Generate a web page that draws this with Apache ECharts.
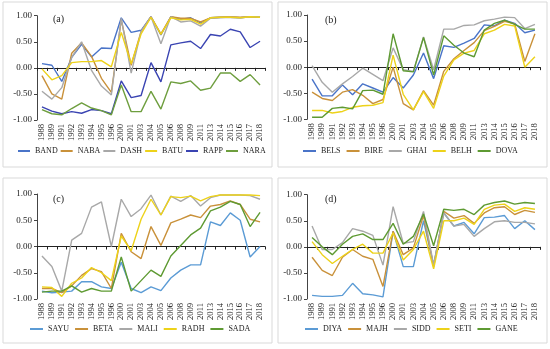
<!DOCTYPE html>
<html><head><meta charset="utf-8">
<script src="https://cdn.jsdelivr.net/npm/echarts@6/dist/echarts.min.js"></script>
<style>html,body{margin:0;padding:0;background:#fff}#c{width:550px;height:349px}</style>
</head><body><div id="c"></div>
<script>
var years = ['1988','1989','1991','1992','1993','1994','1995','1996','2000','2001','2003','2004','2005','2006','2008','2009','2011','2013','2014','2015','2016','2017','2018'];
var yTicks = [-1, -0.5, 0, 0.5, 1];

// Panel (a)
var BAND = [0.08,0.05,-0.26,0.2,0.45,0.21,0.38,0.37,0.96,0.68,0.72,0.98,0.63,0.98,0.93,0.96,0.86,0.96,0.97,0.97,0.96,0.98,0.97];
var NABA = [-0.15,-0.5,-0.6,0.28,0.48,0.22,-0.2,-0.47,0.92,0.05,0.7,0.98,0.65,0.98,0.95,0.95,0.88,0.96,0.97,0.98,0.97,0.98,0.98];
var DASH = [-0.45,-0.6,-0.38,0.2,0.5,-0.05,-0.35,-0.52,0.95,-0.1,0.7,0.98,0.46,0.98,0.88,0.9,0.8,0.95,0.96,0.97,0.96,0.98,0.98];
var BATU = [-0.02,-0.23,-0.15,0.1,0.12,0.12,0.14,0.02,0.68,0.08,0.65,0.97,0.64,0.96,0.92,0.93,0.84,0.96,0.97,0.97,0.96,0.98,0.97];
var RAPP = [-0.75,-0.83,-0.88,-0.84,-0.87,-0.8,-0.82,-0.88,-0.25,-0.57,-0.53,0.1,-0.27,0.44,0.48,0.51,0.37,0.64,0.61,0.74,0.69,0.39,0.51];
var NARA = [-0.8,-0.88,-0.9,-0.78,-0.67,-0.77,-0.82,-0.9,-0.33,-0.84,-0.84,-0.45,-0.79,-0.27,-0.3,-0.25,-0.43,-0.39,-0.1,-0.1,-0.26,-0.13,-0.33];

// Panel (b)
var BELS = [-0.23,-0.55,-0.55,-0.34,-0.53,-0.32,-0.4,-0.48,-0.2,-0.4,-0.15,0.27,-0.22,0.41,0.38,0.46,0.55,0.81,0.79,0.9,0.84,0.66,0.71];
var BIRE = [-0.48,-0.6,-0.64,-0.48,-0.43,-0.54,-0.7,-0.62,0.0,-0.7,-0.82,-0.45,-0.73,-0.08,0.16,0.32,0.47,0.7,0.78,0.88,0.83,0.11,0.64];
var GHAI = [0.03,-0.29,-0.48,-0.32,-0.18,-0.02,-0.14,-0.26,0.37,-0.05,-0.08,0.58,-0.05,0.73,0.73,0.8,0.81,0.89,0.92,0.96,0.95,0.74,0.82];
var BELH = [-0.83,-0.83,-0.88,-0.85,-0.77,-0.74,-0.73,-0.68,0.23,-0.52,-0.82,-0.47,-0.79,-0.17,0.14,0.27,0.32,0.64,0.71,0.82,0.79,0.0,0.2];
var DOVA = [-0.96,-0.96,-0.79,-0.77,-0.8,-0.45,-0.44,-0.52,0.64,-0.07,-0.09,0.57,-0.15,0.6,0.42,0.27,0.2,0.71,0.84,0.9,0.82,0.73,0.73];

// Panel (c)
var SAYU = [-0.85,-0.88,-0.87,-0.85,-0.67,-0.67,-0.77,-0.8,-0.3,-0.8,-0.88,-0.77,-0.84,-0.6,-0.45,-0.35,-0.35,0.47,0.4,0.64,0.5,-0.2,0.0];
var BETA = [-0.8,-0.8,-0.88,-0.75,-0.55,-0.42,-0.48,-0.8,0.25,-0.1,-0.23,0.38,0.02,0.45,0.52,0.6,0.55,0.77,0.8,0.87,0.8,0.52,0.47];
var MALI = [-0.18,-0.38,-0.85,0.12,0.25,0.75,0.85,0.0,0.9,0.57,0.72,0.98,0.6,0.96,0.86,0.97,0.77,0.93,0.98,0.98,0.98,0.97,0.9];
var RADH = [-0.77,-0.78,-0.95,-0.7,-0.6,-0.4,-0.5,-0.65,0.2,-0.08,0.52,0.9,0.6,0.95,0.93,0.96,0.87,0.95,0.98,0.98,0.98,0.98,0.97];
var SADA = [-0.87,-0.85,-0.85,-0.75,-0.87,-0.8,-0.85,-0.85,-0.2,-0.85,-0.65,-0.45,-0.57,-0.18,0.02,0.22,0.35,0.68,0.75,0.86,0.8,0.38,0.65];

// Panel (d)
var DIYA = [-0.93,-0.95,-0.95,-0.93,-0.7,-0.9,-0.92,-0.96,0.3,-0.38,-0.38,0.5,-0.35,0.65,0.4,0.47,0.25,0.56,0.57,0.6,0.35,0.5,0.33];
var MAJH = [-0.2,-0.45,-0.55,-0.2,-0.05,-0.18,-0.24,-0.76,0.3,-0.15,-0.02,0.6,-0.38,0.68,0.55,0.6,0.45,0.65,0.75,0.77,0.62,0.7,0.66];
var SIDD = [0.4,-0.05,-0.05,0.08,0.35,0.3,0.22,-0.35,0.77,0.07,0.1,0.68,-0.35,0.65,0.4,0.43,0.2,0.35,0.48,0.5,0.47,0.47,0.44];
var SETI = [0.1,-0.15,-0.32,-0.18,-0.05,0.05,-0.12,-0.12,0.27,-0.25,-0.05,0.3,-0.42,0.5,0.5,0.55,0.43,0.72,0.8,0.82,0.68,0.75,0.72];
var GANE = [0.18,0.0,-0.15,0.05,0.2,0.25,0.14,0.14,0.45,0.05,0.2,0.63,0.02,0.72,0.7,0.72,0.62,0.8,0.85,0.88,0.82,0.85,0.83];

var panels = [
  {label:'(a)', names:['BAND','NABA','DASH','BATU','RAPP','NARA'], data:[BAND,NABA,DASH,BATU,RAPP,NARA],
   colors:['#4A74C8','#C9913A','#A8A8A8','#EDD21A','#3A44B2','#6E9E3E'],
   grid:{left:37,top:15.7,width:228,height:104.3}, legendTop:147, legendLeft:18, iw:12, ig:3, box:[3,2,269,165], lab:[53,14]},
  {label:'(b)', names:['BELS','BIRE','GHAI','BELH','DOVA'], data:[BELS,BIRE,GHAI,BELH,DOVA],
   colors:['#4A74C8','#C9913A','#A8A8A8','#EDD21A','#5E9A32'],
   grid:{left:307,top:15,width:233,height:104.3}, legendTop:147, legendLeft:303, iw:13, ig:6, box:[278,2,269,165], lab:[325,15]},
  {label:'(c)', names:['SAYU','BETA','MALI','RADH','SADA'], data:[SAYU,BETA,MALI,RADH,SADA],
   colors:['#5B9BD5','#C9913A','#A8A8A8','#EDD21A','#5E9A32'],
   grid:{left:37,top:194,width:228,height:105}, legendTop:325, legendLeft:30, iw:13, ig:6, box:[3,178,269,165], lab:[53,194]},
  {label:'(d)', names:['DIYA','MAJH','SIDD','SETI','GANE'], data:[DIYA,MAJH,SIDD,SETI,GANE],
   colors:['#5B9BD5','#C9913A','#A8A8A8','#EDD21A','#5E9A32'],
   grid:{left:307,top:194.7,width:233,height:104.3}, legendTop:325, legendLeft:305, iw:13, ig:6, box:[278,178,269,165], lab:[325,194]}
];

var FONT = '"Liberation Serif","Times New Roman",serif';
var option = {animation:false, backgroundColor:'#fff', grid:[], xAxis:[], yAxis:[], series:[], legend:[], graphic:[]};

panels.forEach(function(p, gi){
  option.grid.push(p.grid);
  option.xAxis.push({type:'category', gridIndex:gi, data:years, boundaryGap:true, position:'bottom',
    axisLine:{show:false, onZero:false}, axisTick:{show:false},
    axisLabel:{rotate:90, interval:0, fontSize:8.5, fontFamily:FONT, color:'#222', margin:4}});
  option.xAxis.push({type:'category', gridIndex:gi, data:years, boundaryGap:true, position:'top',
    axisLine:{show:true, onZero:true, lineStyle:{color:'#222', width:1}},
    axisTick:{show:true, inside:true, length:3, interval:0, lineStyle:{color:'#222'}},
    axisLabel:{show:false}});
  option.yAxis.push({type:'value', gridIndex:gi, min:-1, max:1, interval:0.5,
    axisLine:{show:true, lineStyle:{color:'#444', width:1}},
    axisTick:{show:true, length:3, lineStyle:{color:'#444'}},
    splitLine:{show:false},
    axisLabel:{fontSize:9, fontFamily:FONT, color:'#222', margin:5,
      formatter:function(v){ return v.toFixed(2); }}});
  p.names.forEach(function(n, si){
    option.series.push({type:'line', name:n, xAxisIndex:gi*2, yAxisIndex:gi, data:p.data[si],
      symbol:'none', lineStyle:{width:1.4, color:p.colors[si]}, itemStyle:{color:p.colors[si]}});
  });
  option.legend.push({data:p.names, top:p.legendTop, left:p.legendLeft, width:300, orient:'horizontal',
    itemWidth:p.iw, itemHeight:2, itemGap:p.ig, icon:'rect', padding:0,
    textStyle:{fontSize:8, fontFamily:FONT, color:'#222'}});
  option.graphic.push({type:'rect', shape:{x:p.box[0], y:p.box[1], width:p.box[2], height:p.box[3]},
    style:{fill:'none', stroke:'#D9D9D9', lineWidth:1}, z:-1});
  option.graphic.push({type:'text', left:p.lab[0], top:p.lab[1],
    style:{text:p.label, font:'10px '+FONT, fill:'#222'}});
});

var chart = echarts.init(document.getElementById('c'), null, {renderer:'canvas'});
chart.setOption(option);
</script></body></html>
